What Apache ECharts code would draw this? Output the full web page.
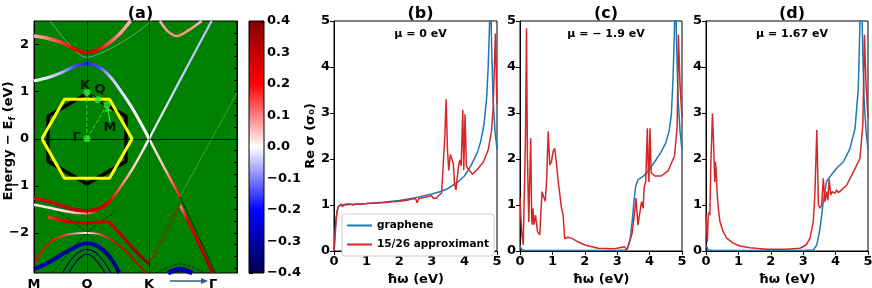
<!DOCTYPE html>
<html><head><meta charset="utf-8">
<script src="https://cdn.jsdelivr.net/npm/echarts@6/dist/echarts.min.js"></script>
<style>html,body{margin:0;padding:0;background:#fff}#c{width:872px;height:288px}</style>
</head><body><div id="c"></div><script>
// ---------- Panel (a): band structure, [k, E, weight] ----------
const kTicks = [0, 2.61, 5.67, 8.82];
const kLabels = ['M', 'Q', 'K', 'Γ'];
const eTicks = [-2, -1, 0, 1, 2];
const cbTicks = [-0.4, -0.3, -0.2, -0.1, 0, 0.1, 0.2, 0.3, 0.4];
const bandA = [[0,2.18,0.05],[0.7,2.13,0.1],[1.44,2.03,0.16],[2.0,1.9,0.22],[2.6,1.83,0.26],[3.1,1.88,0.22],[3.58,2.0,0.14],[4.2,2.22,0.08],[4.75,2.5,0.05]];
const bandAthin = [[0.8,2.5,-0.02],[1.7,2.02,-0.04],[2.6,1.73,-0.06],[3.5,1.86,-0.04],[4.6,2.12,-0.02],[5.8,2.5,0]];
const bandB = [[0,1.23,0],[0.7,1.3,-0.02],[1.44,1.42,-0.06],[2.0,1.54,-0.14],[2.6,1.6,-0.18],[3.2,1.52,-0.14],[3.74,1.32,-0.05],[4.3,1.0,-0.02],[4.88,0.62,0],[5.67,0,0]];
const bandC = [[6.2,2.5,0.06],[6.6,2.28,0.08],[7.03,2.18,0.09],[7.6,2.3,0.08],[8.26,2.5,0.06]];
const bandD = [[5.67,0,0],[7.2,1.25,-0.04],[8.75,2.5,-0.05]];
const bandE = [[0,-1.4,0.01],[0.7,-1.46,0.02],[1.44,-1.53,0.02],[2.0,-1.57,0.05],[2.6,-1.58,0.1],[3.2,-1.5,0.2],[3.74,-1.32,0.2],[4.3,-1.0,0.1],[4.88,-0.62,0.03],[5.67,0,0]];
const bandF = [[0,-1.26,0.24],[0.7,-1.33,0.26],[1.44,-1.43,0.28],[2.0,-1.5,0.3],[2.6,-1.53,0.32],[3.2,-1.48,0.28],[3.74,-1.33,0.22]];
const bandG = [[0.7,-1.66,0.15],[1.44,-1.74,0.25],[2.0,-1.78,0.28],[2.6,-1.79,0.3],[3.58,-1.76,0.28],[4.1,-1.95,0.3],[4.57,-2.18,0.33],[5.1,-2.43,0.36],[5.67,-2.66,0.4]];
const bandH = [[0.05,-2.61,0.2],[0.79,-2.2,0.22],[1.6,-2.04,0.15],[2.6,-2.0,0],[3.3,-2.04,0.15],[4.0,-2.2,0.25],[4.6,-2.42,0.28],[5.2,-2.7,0.3],[5.5,-2.85,0.3]];
const bandI = [[0,-2.77,-0.3],[0.79,-2.61,-0.3],[1.77,-2.36,-0.32],[2.6,-2.22,-0.28],[3.3,-2.33,-0.32],[3.8,-2.55,-0.33],[4.2,-2.85,-0.33]];
const bandJ1 = [[1.4,-2.85,-0.38],[2.0,-2.48,-0.38],[2.6,-2.35,-0.36],[3.2,-2.48,-0.38],[3.8,-2.85,-0.38]];
const bandJ2 = [[1.7,-2.85,-0.4],[2.2,-2.55,-0.4],[2.6,-2.45,-0.4],[3.0,-2.55,-0.4],[3.5,-2.85,-0.4]];
const bandK = [[5.67,0,0],[6.4,-0.6,0.05],[6.9,-1.0,0.15],[7.19,-1.23,0.3]];
const bandL = [[7.19,-1.23,0],[8.5,-0.2,0],[10,0.98,0]];
const bandM = [[7.19,-1.4,0.05],[7.6,-1.75,0.25],[8.2,-2.3,0.3],[8.8,-2.85,0.35]];
const bandN = [[5.67,-2.66,0.25],[6.4,-2.05,0.25],[7.19,-1.4,0.1]];
const bandO = [[6.6,-2.85,-0.3],[7.19,-2.77,-0.3],[7.8,-2.85,-0.3]];
const thinX1 = [[1.2,-1.55],[2.6,-2.0],[4.3,-2.85]];
const thinX2 = [[0.9,-2.85],[2.6,-2.0],[4.0,-1.55]];
const thinArc = [[6.0,-2.85],[7.19,-2.66],[8.4,-2.85]];
const thinTip = [[7.19,-1.23],[8.95,-2.85]];
// Brillouin-zone inset
const hexYellow = [[0.39,0],[1.50,0.84],[3.72,0.84],[4.83,0],[3.72,-0.84],[1.50,-0.84],[0.39,0]];
const hexBlack = [[2.61,0.96],[4.53,0.48],[4.53,-0.48],[2.61,-0.96],[0.69,-0.48],[0.69,0.48],[2.61,0.96]];
const bzPoints = [[2.61,0],[2.61,0.98],[3.15,0.83],[3.6,0.72]];
const bzPathGK = [[2.61,0],[2.61,0.98]];
const bzPathKQM = [[2.61,0.98],[3.15,0.83],[3.6,0.72]];
const bzPathGM = [[2.61,0],[3.6,0.72]];
const bzLabels = [{name:'K',value:[2.51,1.13]},{name:'Q',value:[3.25,1.04]},{name:'M',value:[3.74,0.23]},{name:'Γ',value:[2.1,0.03]}];

// ---------- Panels (b)-(d): Re sigma vs hbar*omega ----------
const grapheneB = [[0,0],[0.03,0.35],[0.07,0.75],[0.12,0.95],[0.2,1.0],[0.3,1.0],[0.5,1.01],[0.75,1.02],[1.0,1.03],[1.5,1.06],[2.0,1.1],[2.5,1.16],[3.0,1.24],[3.3,1.3],[3.5,1.36],[3.8,1.5],[4.0,1.63],[4.2,1.85],[4.4,2.15],[4.5,2.38],[4.6,2.75],[4.68,3.3],[4.73,4.0],[4.77,4.9],[4.79,5.6],[4.81,5.3],[4.84,4.3],[4.88,3.3],[4.94,2.6],[5.0,2.2]];
const approxB = [[0,0],[0.03,0.3],[0.06,0.65],[0.1,0.88],[0.14,0.97],[0.18,0.95],[0.22,1.02],[0.26,0.96],[0.3,1.01],[0.35,0.97],[0.4,1.02],[0.45,0.98],[0.5,1.02],[0.6,1.0],[0.7,1.03],[0.8,1.01],[1.0,1.03],[1.2,1.04],[1.5,1.05],[1.8,1.07],[2.0,1.08],[2.2,1.1],[2.4,1.13],[2.5,1.14],[2.55,1.05],[2.6,1.14],[2.8,1.17],[3.0,1.2],[3.05,1.14],[3.15,1.15],[3.2,1.2],[3.3,1.26],[3.36,1.3],[3.4,2.5],[3.44,3.3],[3.48,2.2],[3.52,1.75],[3.57,2.1],[3.62,2.12],[3.66,1.9],[3.7,1.45],[3.74,1.33],[3.78,1.3],[3.82,1.85],[3.86,1.98],[3.9,1.85],[3.95,3.07],[3.98,1.76],[4.02,2.97],[4.06,1.85],[4.1,1.8],[4.17,1.74],[4.25,1.67],[4.38,1.76],[4.58,1.93],[4.73,2.2],[4.83,2.6],[4.88,3.07],[4.92,4.0],[4.95,4.73],[4.98,3.8],[5.0,3.2]];
const grapheneC = [[0,0.12],[0.05,0.03],[0.15,0.01],[1.0,0.01],[2.0,0.01],[3.0,0.01],[3.25,0.02],[3.32,0.06],[3.4,0.25],[3.47,0.7],[3.52,1.1],[3.57,1.4],[3.64,1.55],[3.8,1.62],[3.95,1.74],[4.16,1.94],[4.36,2.16],[4.5,2.35],[4.6,2.6],[4.67,2.95],[4.72,3.7],[4.76,4.6],[4.79,5.6],[4.81,5.3],[4.84,4.3],[4.88,3.3],[4.94,2.6],[5.0,2.2]];
const approxC = [[0,1.18],[0.03,0.7],[0.06,0.35],[0.1,0.13],[0.14,0.15],[0.17,2.5],[0.2,4.84],[0.23,2.0],[0.27,0.63],[0.3,0.6],[0.33,2.45],[0.36,0.8],[0.37,0.57],[0.4,0.93],[0.43,0.57],[0.48,0.78],[0.54,0.42],[0.61,0.35],[0.64,0.38],[0.68,1.29],[0.73,1.18],[0.78,1.08],[0.82,1.51],[0.87,2.6],[0.92,1.87],[0.97,1.94],[1.02,2.16],[1.07,2.23],[1.12,1.94],[1.18,1.51],[1.23,1.22],[1.28,0.93],[1.33,0.78],[1.38,0.27],[1.48,0.3],[1.59,0.28],[1.79,0.2],[2.0,0.13],[2.41,0.06],[2.92,0.05],[3.23,0.09],[3.3,0.03],[3.38,0.2],[3.46,0.38],[3.54,0.85],[3.58,1.15],[3.64,0.56],[3.7,0.6],[3.75,1.07],[3.8,0.93],[3.83,1.37],[3.88,1.51],[3.93,2.67],[3.96,1.7],[3.98,1.5],[4.01,2.67],[4.05,1.7],[4.16,1.63],[4.36,1.63],[4.57,1.74],[4.77,2.07],[4.85,2.7],[4.89,4.7],[4.94,3.6],[5.0,2.9]];
const grapheneD = [[0,0.13],[0.07,0.02],[0.2,0.01],[1,0.01],[2,0.01],[3.0,0.01],[3.31,0.02],[3.42,0.13],[3.52,0.49],[3.62,1.07],[3.72,1.51],[3.83,1.62],[4.03,1.8],[4.24,1.94],[4.44,2.22],[4.6,2.66],[4.7,3.53],[4.75,4.9],[4.78,5.6],[4.81,5.3],[4.84,4.3],[4.88,3.3],[4.94,2.6],[5.0,2.2]];
const approxD = [[0,0.8],[0.02,0.55],[0.04,0.2],[0.07,0.78],[0.1,0.85],[0.12,0.78],[0.15,1.9],[0.2,2.99],[0.24,2.2],[0.27,1.5],[0.29,1.94],[0.31,1.8],[0.34,1.3],[0.38,0.93],[0.43,0.64],[0.53,0.42],[0.64,0.28],[0.84,0.17],[1.05,0.11],[1.36,0.07],[1.87,0.04],[2.49,0.04],[2.9,0.06],[3.09,0.13],[3.21,0.28],[3.31,0.64],[3.36,1.22],[3.42,2.63],[3.47,1.0],[3.52,0.93],[3.57,1.0],[3.62,1.58],[3.67,1.07],[3.72,1.29],[3.76,1.1],[3.8,1.55],[3.85,1.22],[3.9,1.29],[3.98,1.25],[4.03,1.33],[4.08,1.27],[4.19,1.33],[4.34,1.43],[4.55,1.72],[4.75,2.01],[4.84,2.73],[4.89,4.7],[4.94,3.6],[5.0,2.9]];
const omegaTicks = [0, 1, 2, 3, 4, 5];
const panelTitles = ['(a)', '(b)', '(c)', '(d)'];
const muLabels = ['μ = 0 eV', 'μ = − 1.9 eV', 'μ = 1.67 eV'];

// ---------- styling ----------
const FF = 'DejaVu Sans';
const BLUE = '#1f77b4', RED = '#d62728';
function seismic(v) {
  const t = Math.max(0, Math.min(1, (v + 0.4) / 0.8));
  const st = [[0,[0,0,77]],[0.25,[0,0,255]],[0.5,[255,255,255]],[0.75,[255,0,0]],[1,[128,0,0]]];
  for (let i = 0; i < st.length - 1; i++) {
    if (t <= st[i+1][0]) {
      const f = (t - st[i][0]) / (st[i+1][0] - st[i][0]);
      const c = st[i][1].map((a, j) => Math.round(a + f * (st[i+1][1][j] - a)));
      return 'rgb(' + c.join(',') + ')';
    }
  }
  return 'rgb(128,0,0)';
}
function band(pts, width, extra) {
  const x0 = pts[0][0], x1 = pts[pts.length-1][0];
  const stops = pts.map(p => ({offset: (p[0]-x0)/(x1-x0), color: seismic(p[2])}));
  return Object.assign({type:'line', xAxisIndex:0, yAxisIndex:0, data: pts.map(p => [p[0], p[1]]),
    smooth:0.35, symbol:'none', silent:true, z:3,
    lineStyle:{width:width, color:new echarts.graphic.LinearGradient(0,0,1,0,stops)}}, extra || {});
}
function thin(pts, color, type) {
  return {type:'line', xAxisIndex:0, yAxisIndex:0, data:pts, smooth:0.35, symbol:'none', silent:true, z:2,
    lineStyle:{width:0.8, color:color, type:type||'dashed'}};
}
const minus = v => String(v).replace('-', '−');
const bold = (s) => ({fontFamily:FF, fontWeight:'bold', fontSize:s, color:'#000'});

const gbase = {outerBoundsMode:'none', containLabel:false};
const grids = [
  Object.assign({left:34, top:21, width:203, height:252, show:true, backgroundColor:'#008000', borderColor:'#000', borderWidth:1}, gbase),
  Object.assign({left:249, top:21, width:15, height:252}, gbase),
  Object.assign({left:334, top:21, width:163, height:230, show:true, backgroundColor:'#fff', borderColor:'#000', borderWidth:1}, gbase),
  Object.assign({left:520, top:21, width:162, height:230, show:true, backgroundColor:'#fff', borderColor:'#000', borderWidth:1}, gbase),
  Object.assign({left:706, top:21, width:162, height:230, show:true, backgroundColor:'#fff', borderColor:'#000', borderWidth:1}, gbase)
];
const omegaX = (gi) => ({gridIndex:gi, type:'value', min:0, max:5, interval:1,
  axisLine:{lineStyle:{color:'#000'}}, axisTick:{length:4, lineStyle:{color:'#000'}},
  axisLabel:Object.assign(bold(13), {margin:4}), splitLine:{show:false},
  name:'ħω (eV)', nameLocation:'middle', nameGap:20, nameTextStyle:bold(13)});
const sigmaY = (gi, named) => Object.assign({gridIndex:gi, type:'value', min:0, max:5, interval:1,
  axisLine:{show:true, lineStyle:{color:'#000'}}, axisTick:{show:true, length:4, lineStyle:{color:'#000'}},
  axisLabel:Object.assign(bold(13), {margin:4}), splitLine:{show:false}},
  named ? {name:'Re σ (σ₀)', nameLocation:'middle', nameGap:17, nameTextStyle:bold(13)} : {});

const xAxes = [
  {gridIndex:0, type:'value', min:0, max:10, axisLine:{lineStyle:{color:'#000'}},
   axisTick:{inside:true, length:5, customValues:[2.61, 5.67], lineStyle:{color:'#000'}},
   axisLabel:Object.assign(bold(13), {margin:5, customValues:kTicks, formatter:(v) => kLabels[kTicks.indexOf(v)] || ''}),
   splitLine:{show:false}},
  {gridIndex:1, type:'value', min:0, max:1, show:false},
  omegaX(2), omegaX(3), omegaX(4)
];
const yAxes = [
  {gridIndex:0, type:'value', min:-2.85, max:2.5, axisLine:{show:true, lineStyle:{color:'#000'}},
   axisTick:{show:true, inside:true, length:5, customValues:eTicks, lineStyle:{color:'#000'}},
   axisLabel:Object.assign(bold(13), {margin:5, customValues:eTicks, formatter:minus}), splitLine:{show:false}},
  {gridIndex:1, type:'value', min:-0.4, max:0.4, position:'right',
   axisLine:{show:false}, axisTick:{show:true, length:4, customValues:cbTicks, lineStyle:{color:'#000'}},
   axisLabel:Object.assign(bold(13), {margin:3, customValues:cbTicks, formatter:(v) => minus(v.toFixed(1))}), splitLine:{show:false}},
  sigmaY(2, true), sigmaY(3, false), sigmaY(4, false),
  {gridIndex:0, type:'value', min:-2.85, max:2.5, position:'right', axisLine:{show:true, lineStyle:{color:'#000'}},
   axisTick:{show:true, inside:true, length:3, customValues:[-2.75,-2.5,-2.25,-2,-1.75,-1.5,-1.25,-1,-0.75,-0.5,-0.25,0,0.25,0.5,0.75,1,1.25,1.5,1.75,2,2.25], lineStyle:{color:'#000'}},
   axisLabel:{show:false}, splitLine:{show:false}}
];

const series = [
  {type:'line', xAxisIndex:0, yAxisIndex:0, data:[], silent:true, z:1,
   markLine:{silent:true, symbol:'none', label:{show:false}, animation:false,
     lineStyle:{color:'rgba(0,0,0,0.45)', width:1, type:'solid'},
     data:[{xAxis:kTicks[1]}, {xAxis:kTicks[2]}, {yAxis:0}]}},
  thin(thinX1, 'rgba(0,0,0,0.8)'), thin(thinX2, 'rgba(0,0,0,0.8)'), thin(thinArc, 'rgba(0,0,0,0.8)'), thin(thinTip, 'rgba(0,0,0,0.8)', 'solid'),
  band(bandAthin, 1, {lineStyle:{width:0.8, color:'rgba(220,220,255,0.6)'}}),
  band(bandA, 3.5), band(bandB, 3), band(bandC, 2.5), band(bandD, 2.2),
  band(bandE, 2.5), band(bandF, 3.5), band(bandG, 3), band(bandH, 1.8),
  band(bandI, 4), band(bandJ1, 1.2), band(bandJ2, 1.2),
  band(bandK, 2.5), band(bandL, 1, {lineStyle:{width:1, color:'rgba(230,230,230,0.55)', type:'dotted'}}),
  band(bandM, 3), band(bandN, 1.8, {lineStyle:{width:1.8, color:'#cc0000', type:'dotted'}}), band(bandO, 5),
  {type:'line', xAxisIndex:0, yAxisIndex:0, data:hexBlack, symbol:'none', silent:true, z:5, lineStyle:{color:'#000', width:3.5}},
  {type:'line', xAxisIndex:0, yAxisIndex:0, data:hexYellow, symbol:'none', silent:true, z:6, lineStyle:{color:'#ffff00', width:3}},
  {type:'line', xAxisIndex:0, yAxisIndex:0, data:bzPathGK, symbol:'none', silent:true, z:7, lineStyle:{color:'#33e833', width:1, type:'dashed'}},
  {type:'line', xAxisIndex:0, yAxisIndex:0, data:bzPathKQM, symbol:'none', silent:true, z:7, lineStyle:{color:'#33e833', width:1, type:'dashed'}},
  {type:'line', xAxisIndex:0, yAxisIndex:0, data:bzPathGM, symbol:'none', silent:true, z:7, lineStyle:{color:'#33e833', width:1, type:'dashed'}},
  {type:'scatter', xAxisIndex:0, yAxisIndex:0, data:bzPoints, symbolSize:7, silent:true, z:8, itemStyle:{color:'#33e833'}},
  {type:'scatter', xAxisIndex:0, yAxisIndex:0, data:bzLabels, symbolSize:0, silent:true, z:9,
   label:{show:true, position:'inside', formatter:'{b}', fontFamily:FF, fontWeight:'bold', fontSize:13, color:'#000'},
   markLine:{silent:true, symbol:['none','arrow'], symbolSize:6, label:{show:false},
     lineStyle:{color:'#33e833', width:1.2, type:'solid'},
     data:[[{coord:[3.74,0.36]}, {coord:[3.62,0.69]}]]}},
  {type:'line', xAxisIndex:1, yAxisIndex:1, data:[[0.5,0]], symbol:'none', silent:true, lineStyle:{opacity:0},
   markArea:{silent:true, itemStyle:{borderColor:'#000', borderWidth:1,
     color:new echarts.graphic.LinearGradient(0,0,0,1,[{offset:0,color:'#800000'},{offset:0.25,color:'#ff0000'},{offset:0.5,color:'#ffffff'},{offset:0.75,color:'#0000ff'},{offset:1,color:'#00004d'}])},
     data:[[{coord:[0,-0.4]}, {coord:[1,0.4]}]]}}
];
const pairs = [[grapheneB, approxB], [grapheneC, approxC], [grapheneD, approxD]];
pairs.forEach((p, i) => {
  series.push({name:'graphene', type:'line', xAxisIndex:2+i, yAxisIndex:2+i, data:p[0], symbol:'none', silent:true, z:3,
    lineStyle:{color:BLUE, width:1.5}, itemStyle:{color:BLUE}});
  series.push({name:'15/26 approximant', type:'line', xAxisIndex:2+i, yAxisIndex:2+i, data:p[1], symbol:'none', silent:true, z:4,
    lineStyle:{color:RED, width:1.5}, itemStyle:{color:RED}});
});

const centers = [135.5, 415.5, 601, 787];
const titles = panelTitles.map((t, i) => ({text:t, left:centers[i], top:1, textAlign:'center',
  textStyle:{fontFamily:FF, fontWeight:'bold', fontSize:16, color:'#000'}}));
muLabels.forEach((t, i) => titles.push({text:t, left:centers[i+1], top:24, textAlign:'center',
  textStyle:{fontFamily:FF, fontWeight:'bold', fontSize:11, color:'#000'}}));

const option = {
  animation:false,
  backgroundColor:'#fff',
  title:titles,
  grid:grids, xAxis:xAxes, yAxis:yAxes, series:series,
  legend:{data:['graphene','15/26 approximant'], left:342, top:214, orient:'vertical',
    icon:'rect', itemWidth:25, itemHeight:2, itemGap:8, padding:[6,5],
    backgroundColor:'#fff', borderColor:'#ccc', borderWidth:1, borderRadius:3,
    textStyle:{fontFamily:FF, fontWeight:'bold', fontSize:10.5, color:'#000'}},
  graphic:[
    {type:'text', x:9, y:141, rotation:Math.PI/2,
     style:{text:'Energy − E{s|f} (eV)', align:'center', verticalAlign:'middle',
       font:'bold 13px "DejaVu Sans"', fill:'#000',
       rich:{s:{font:'bold 9px "DejaVu Sans"', fill:'#000', padding:[7,0,0,0]}}}},
    {type:'line', shape:{x1:170, y1:281, x2:203, y2:281}, style:{stroke:'#2c5f82', lineWidth:1.5}},
    {type:'polygon', shape:{points:[[201,278],[208,281],[201,284]]}, style:{fill:'#2c5f82'}}
  ]
};
const chart = echarts.init(document.getElementById('c'), null, {renderer:'canvas'});
chart.setOption(option);
</script></body></html>
